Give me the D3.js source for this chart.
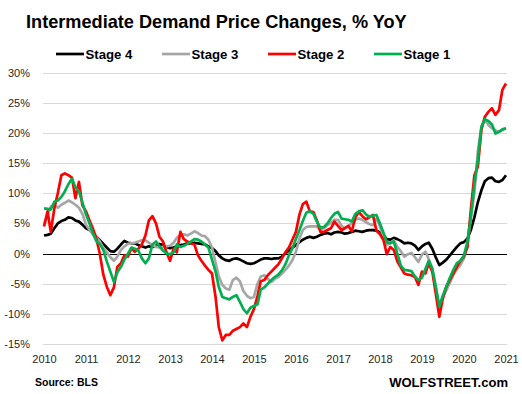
<!DOCTYPE html>
<html><head><meta charset="utf-8">
<script src="https://cdn.jsdelivr.net/npm/d3@7"></script>
<style>html,body{margin:0;padding:0;background:#fff;} svg{display:block;font-family:"Liberation Sans",Arial,sans-serif;}</style>
</head><body><svg id="c" width="522" height="394"></svg>
<script>
const titleText = "Intermediate Demand Price Changes, % YoY";
const sourceText = "Source: BLS";
const brandText = "WOLFSTREET.com";
const seriesNames = ["Stage 4", "Stage 3", "Stage 2", "Stage 1"];
const seriesColors = ["#000000", "#a6a6a6", "#ff0000", "#00b050"];
const yTicks = [-15, -10, -5, 0, 5, 10, 15, 20, 25, 30];
const xYears = [2010, 2011, 2012, 2013, 2014, 2015, 2016, 2017, 2018, 2019, 2020, 2021];
const startYear = 2010; // monthly data, Jan 2010 .. Jan 2021

const stage4 = [
  3.0, 3.1, 3.3, 4.2, 5.0, 5.4, 5.6, 6.0, 5.9, 5.5, 5.3, 4.8,
  4.2, 3.9, 3.4, 2.8, 2.2, 1.6, 1.0, 0.4, 0.3, 0.8, 1.5, 2.1,
  1.8, 1.7, 1.7, 1.4, 1.2, 1.0, 1.2, 1.1, 1.3, 1.6, 1.4, 1.1,
  0.9, 1.0, 1.2, 1.4, 1.5, 1.7, 1.7, 1.8, 1.7, 1.6, 1.5, 1.2,
  0.9, 0.4, -0.3, -0.8, -1.1, -1.2, -0.9, -0.8, -1.0, -1.3, -1.6, -1.7,
  -1.6, -1.3, -1.0, -0.8, -0.8, -0.9, -0.8, -0.8, -0.5, 0.0, 0.5, 1.0,
  1.4, 1.9, 2.3, 2.6, 2.8, 2.6, 2.8, 3.1, 3.3, 3.4, 3.2, 3.5,
  3.6, 3.5, 3.3, 3.4, 3.6, 3.8, 3.7, 3.6, 3.8, 3.9, 3.9, 3.8,
  3.5, 3.0, 2.4, 2.3, 2.6, 2.4, 2.1, 1.7, 1.8, 1.7, 1.3, 0.6,
  1.2, 1.6, 1.8, 0.8, -0.6, -1.9, -1.5, -1.0, -0.3, 0.4, 1.1, 1.7,
  1.9, 2.5, 3.9, 6.0, 8.5, 10.5, 12.0, 12.5, 12.6, 12.0, 11.9, 12.2,
  13.0
];
const stage3 = [
  4.8, 6.5, 7.8, 8.0, 7.6, 8.1, 8.4, 8.8, 8.5, 8.1, 7.6, 6.6,
  4.8, 3.9, 3.2, 2.8, 2.0, 0.9, 0.2, -0.6, -1.2, -0.5, 0.6, 1.2,
  1.6, 1.7, 1.8, 2.0, 2.2, 2.2, 1.8, 1.4, 1.1, 1.0, 1.1, 1.2,
  1.3, 1.8, 2.6, 3.1, 3.2, 3.0, 3.3, 3.7, 3.4, 3.0, 2.9, 2.3,
  1.0, -1.5, -3.8, -5.2, -5.8, -6.0, -4.4, -4.0, -4.6, -6.2, -7.0, -7.4,
  -7.2, -5.0, -3.8, -3.6, -4.2, -4.7, -4.2, -3.9, -3.3, -2.7, -2.0, -1.1,
  0.3, 2.5, 3.9, 4.4, 4.5, 4.5, 4.5, 4.0, 4.2, 4.7, 5.1, 5.6,
  5.6, 4.6, 4.2, 4.6, 5.0, 5.6, 5.8, 5.6, 5.2, 4.9, 4.7, 5.8,
  4.5, 2.8, 1.4, 1.8, 2.2, 1.1, 0.4, -0.5, -0.1, 0.1, -0.6, -1.4,
  -0.2, 0.3, -0.9, -2.5, -5.5, -8.8, -7.2, -6.1, -4.8, -3.5, -2.6, -1.9,
  -0.8, 1.5, 6.0, 10.0, 17.0, 21.0, 22.3, 21.3, 20.8, 20.4, 20.2, 20.5,
  20.8
];
const stage2 = [
  4.5, 7.0, 3.6, 7.5, 10.0, 13.0, 13.3, 13.0, 12.6, 9.2, 11.9, 8.0,
  7.0, 5.5, 4.2, 2.5, 0.0, -3.5, -5.5, -6.9, -5.6, -2.2, -1.6, -0.3,
  -0.5, 0.9, 0.3, 0.8, 1.5, 3.0, 5.5, 6.2, 5.0, 2.8, 2.0, 0.2,
  -1.2, 0.8, 0.2, 3.6, 2.4, 2.0, 1.7, 1.5, -0.3, -1.2, -2.0, -2.7,
  -3.3, -7.2, -12.2, -14.4, -13.5, -13.5, -12.8, -12.5, -12.2, -11.6, -12.2, -10.5,
  -9.2, -7.0, -4.6, -4.4, -3.6, -3.0, -2.4, -1.8, -0.8, 0.2, 1.0, 2.3,
  3.6, 6.5, 8.2, 8.6, 7.0, 6.9, 5.5, 3.6, 3.6, 3.9, 4.2, 5.3,
  4.6, 3.9, 4.2, 4.6, 3.7, 6.0, 6.9, 6.2, 5.7, 6.0, 6.4, 3.8,
  3.2, 2.2, -0.1, 1.1, 0.6, -1.3, -2.3, -3.3, -3.5, -3.6, -3.9, -5.2,
  -3.0, -3.3, -1.6, -3.0, -6.6, -10.5, -7.5, -5.5, -4.4, -3.3, -2.2, -1.2,
  -0.5, 1.1, 7.2, 13.0, 14.4, 20.5, 22.7, 23.5, 24.1, 23.0, 23.8, 27.2,
  28.2
];
const stage1 = [
  7.5, 7.4, 7.3, 8.6, 8.8, 9.4, 10.3, 11.5, 12.4, 11.0, 10.3, 8.5,
  6.5, 5.0, 3.4, 2.1, 1.6, 0.6, -1.3, -3.0, -4.7, -3.1, -2.2, -1.0,
  0.0, 1.0, 0.8, 0.5, -0.8, -1.6, -0.8, 1.5, 2.0, 1.2, 0.5, 0.0,
  -0.1, 0.2, 1.5, 1.1, 1.3, 1.6, 2.0, 2.4, 2.3, 2.0, 1.5, 1.0,
  -1.0, -3.0, -5.5, -7.2, -7.4, -7.6, -7.2, -6.9, -8.0, -9.2, -9.9, -9.0,
  -8.7, -8.4, -6.0, -5.6, -5.0, -4.4, -3.9, -3.5, -2.8, -1.8, -0.3, 0.9,
  2.4, 3.9, 5.4, 6.8, 7.0, 6.6, 5.3, 4.3, 4.4, 5.0, 5.9, 6.6,
  6.9, 5.8, 5.7, 5.6, 5.3, 6.6, 7.0, 7.2, 6.5, 6.1, 6.3, 6.4,
  5.0, 3.4, 1.9, 1.7, 2.0, 0.0, -2.0, -2.7, -2.8, -2.9, -3.8, -4.4,
  -4.0, -2.5, -1.2, -2.5, -5.5, -8.8, -7.0, -5.5, -4.0, -2.7, -1.6, -1.2,
  -0.3, 2.0, 6.0, 11.5, 15.5, 21.0, 22.3, 22.0, 21.4, 19.9, 20.2, 20.6,
  20.8
];
const seriesValues = [stage4, stage3, stage2, stage1];

const svg = d3.select("#c");
const x = d3.scaleTime()
  .domain([new Date(xYears[0], 0, 1), new Date(xYears[xYears.length - 1], 0, 1)])
  .range([44, 506]);
const y = d3.scaleLinear().domain([-15, 30]).range([344, 72.7]);
const gridL = 43, gridR = 507;

// gridlines
svg.append("g").selectAll("line").data(yTicks.filter(d => d !== 0)).join("line")
  .attr("x1", gridL).attr("x2", gridR)
  .attr("y1", d => Math.round(y(d)) + 0.5).attr("y2", d => Math.round(y(d)) + 0.5)
  .attr("stroke", "#d9d9d9").attr("stroke-width", 1);

// y axis labels
const yAxis = svg.append("g").attr("transform", "translate(33,0)")
  .call(d3.axisLeft(y).tickValues(yTicks).tickSize(0).tickPadding(3).tickFormat(d => d + "%"));
yAxis.select(".domain").remove();
yAxis.selectAll("text").attr("font-size", 11).attr("fill", "#262626")
  .attr("font-family", "'Liberation Sans', Arial, sans-serif");

// x axis labels
const xAxis = svg.append("g").attr("transform", "translate(0,352)")
  .call(d3.axisBottom(x).tickValues(xYears.map(yr => new Date(yr, 0, 1))).tickSize(0).tickPadding(3)
    .tickFormat(d3.timeFormat("%Y")));
xAxis.select(".domain").remove();
xAxis.selectAll("text").attr("font-size", 11).attr("fill", "#262626")
  .attr("font-family", "'Liberation Sans', Arial, sans-serif");

// zero line
svg.append("line").attr("x1", gridL).attr("x2", gridR)
  .attr("y1", Math.round(y(0)) + 0.5).attr("y2", Math.round(y(0)) + 0.5)
  .attr("stroke", "#000").attr("stroke-width", 1);

// series lines
const line = d3.line().x((d, i) => x(new Date(startYear, i, 1))).y(d => y(d));
seriesValues.forEach((vals, k) => {
  svg.append("path").datum(vals).attr("d", line)
    .attr("fill", "none").attr("stroke", seriesColors[k])
    .attr("stroke-width", 2.7).attr("stroke-linejoin", "round").attr("stroke-linecap", "butt");
});

// title
function fitText(sel, target) {
  const w = sel.node().getComputedTextLength();
  const fs = parseFloat(sel.attr("font-size"));
  sel.attr("font-size", fs * target / w);
}
const t = svg.append("text").attr("x", 26).attr("y", 27.5).attr("font-size", 16)
  .attr("font-weight", "bold").attr("fill", "#000").text(titleText);
fitText(t, 381);

// legend
const legendX = [56, 162, 268, 374];
seriesNames.forEach((n, k) => {
  svg.append("line").attr("x1", legendX[k]).attr("x2", legendX[k] + 28)
    .attr("y1", 54).attr("y2", 54).attr("stroke", seriesColors[k]).attr("stroke-width", 2.7);
  const lt = svg.append("text").attr("x", legendX[k] + 29.5).attr("y", 58.8).attr("font-size", 13)
    .attr("font-weight", "bold").attr("fill", "#000").text(n);
  fitText(lt, 47);
});

// footer
const s = svg.append("text").attr("x", 35).attr("y", 386).attr("font-size", 11)
  .attr("font-weight", "bold").attr("fill", "#000").text(sourceText);
fitText(s, 63);
const b = svg.append("text").attr("x", 508).attr("y", 386.5).attr("font-size", 13)
  .attr("text-anchor", "end").attr("font-weight", "bold").attr("fill", "#000").text(brandText);
fitText(b, 119);
</script>
</body></html>
